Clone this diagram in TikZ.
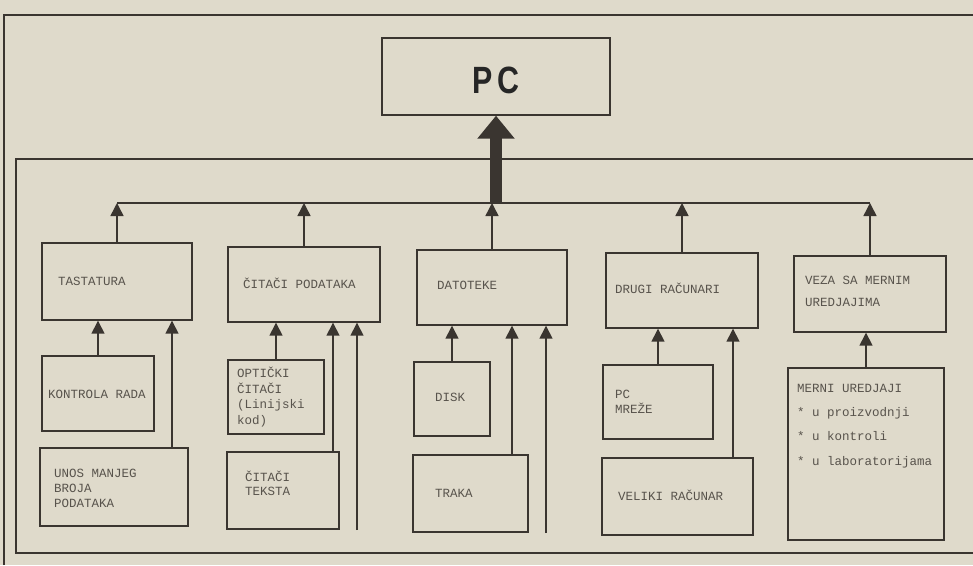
\documentclass[tikz,border=0pt]{standalone}
\usepackage{fontspec}
\setmainfont{Liberation Mono}
\newfontfamily\pcfont{Liberation Sans}
\usetikzlibrary{arrows.meta}
\definecolor{bgc}{RGB}{223,218,203}
\definecolor{linec}{RGB}{58,53,48}
\definecolor{txtc}{RGB}{88,83,76}
\tikzset{
  boxnode/.style={draw=linec, line width=1.4pt, inner sep=0pt},
  txt/.style={anchor=west, align=left, inner sep=0pt, text=txtc, font=\fontsize{12.5}{15}\selectfont},
  arr/.style={draw=linec, line width=1.5pt, -{Triangle[width=13pt,length=13pt]}},
  frame/.style={draw=linec, line width=1.3pt},
}
\begin{document}
\begin{tikzpicture}[x=1pt,y=-1pt]
\fill[bgc] (0,0) rectangle (973,565);
\useasboundingbox (0,0) rectangle (973,565);
% frames
\coordinate (o1) at (4,565);
\coordinate (o2) at (4,15);
\coordinate (o3) at (973,15);
\draw[frame] (o1) -- (o2) -- (o3);
\coordinate (i1) at (973,553);
\coordinate (i2) at (16,553);
\coordinate (i3) at (16,159);
\coordinate (i4) at (973,159);
\draw[frame] (i1) -- (i2) -- (i3) -- (i4);
% PC
\node[boxnode, minimum width=228pt, minimum height=77pt] (pc) at (496,76.5) {};
\node[inner sep=0pt, text=black!85, font=\pcfont\bfseries\fontsize{38}{38}\selectfont] (pct) at (496,80) {\scalebox{0.8}[1]{P\kern6pt C}};
% first row
\node[boxnode, minimum width=150pt, minimum height=77pt] (tas) at (117,281.5) {};
\node[boxnode, minimum width=152pt, minimum height=75pt] (cit) at (304,284.5) {};
\node[boxnode, minimum width=150pt, minimum height=75pt] (dat) at (492,287.5) {};
\node[boxnode, minimum width=152pt, minimum height=75pt] (dru) at (682,290.5) {};
\node[boxnode, minimum width=152pt, minimum height=76pt] (veza) at (870,294) {};
% second row
\node[boxnode, minimum width=112pt, minimum height=75pt] (kon) at (98,393.5) {};
\node[boxnode, minimum width=148pt, minimum height=78pt] (unos) at (114,487) {};
\node[boxnode, minimum width=96pt, minimum height=74pt] (opt) at (276,397) {};
\node[boxnode, minimum width=112pt, minimum height=77pt] (ct) at (283,490.5) {};
\node[boxnode, minimum width=76pt, minimum height=74pt] (disk) at (452,399) {};
\node[boxnode, minimum width=115pt, minimum height=77pt] (traka) at (470.5,493.5) {};
\node[boxnode, minimum width=110pt, minimum height=74pt] (pcm) at (658,402) {};
\node[boxnode, minimum width=151pt, minimum height=77pt] (vel) at (677.5,496.5) {};
\node[boxnode, minimum width=156pt, minimum height=172pt] (mer) at (866,454) {};
% texts
\node[txt] (ttas) at (58,281) {TASTATURA};
\node[txt] (tcit) at (243,283) {ČITAČI PODATAKA};
\node[txt] (tdat) at (437,285) {DATOTEKE};
\node[txt] (tdru) at (615,288) {DRUGI RAČUNARI};
\node[txt, font=\fontsize{12.5}{22}\selectfont] (tveza) at (805,291) {VEZA SA MERNIM\\UREDJAJIMA};
\node[txt] (tkon) at (48,394) {KONTROLA RADA};
\node[txt] (tunos) at (54,488) {UNOS MANJEG\\BROJA\\PODATAKA};
\node[txt, font=\fontsize{12.5}{15.7}\selectfont] (topt) at (237,397) {OPTIČKI\\ČITAČI\\(Linijski\\ kod)};
\node[txt, font=\fontsize{12.5}{14}\selectfont] (tct) at (245,483) {ČITAČI\\TEKSTA};
\node[txt] (tdisk) at (435,397) {DISK};
\node[txt] (ttraka) at (435,493) {TRAKA};
\node[txt] (tpcm) at (615,402) {PC\\MREŽE};
\node[txt] (tvel) at (618,495) {VELIKI RAČUNAR};
\node[txt, font=\fontsize{12.5}{24.2}\selectfont] (tmer) at (797,426) {MERNI UREDJAJI\\* u proizvodnji\\* u kontroli\\* u laboratorijama};
% bus
\coordinate (bus) at (496,203);
\coordinate (busl) at (117,203);
\coordinate (busr) at (870,203);
\draw[frame] (busl) -- (busr);
\draw[draw=linec, line width=12pt, -{Triangle[width=36pt,length=23pt]}] (bus) -- (pc.south);
\foreach \b in {tas,cit,dat,dru,veza}{
  \draw[arr] (\b.north) -- (\b.north |- bus);
}
% second-level connectors
\coordinate (xu) at (172,0);
\coordinate (xc) at (333,0);
\coordinate (xt) at (512,0);
\coordinate (xv) at (733,0);
\coordinate (f1) at (357,530);
\coordinate (f2) at (546,533);
\draw[arr] (kon.north) -- (kon.north |- tas.south);
\draw[arr] (unos.north -| xu) -- (tas.south -| xu);
\draw[arr] (opt.north) -- (opt.north |- cit.south);
\draw[arr] (ct.north -| xc) -- (cit.south -| xc);
\draw[arr] (f1) -- (f1 |- cit.south);
\draw[arr] (disk.north) -- (disk.north |- dat.south);
\draw[arr] (traka.north -| xt) -- (dat.south -| xt);
\draw[arr] (f2) -- (f2 |- dat.south);
\draw[arr] (pcm.north) -- (pcm.north |- dru.south);
\draw[arr] (vel.north -| xv) -- (dru.south -| xv);
\draw[arr] (mer.north) -- (mer.north |- veza.south);
\end{tikzpicture}
\end{document}
